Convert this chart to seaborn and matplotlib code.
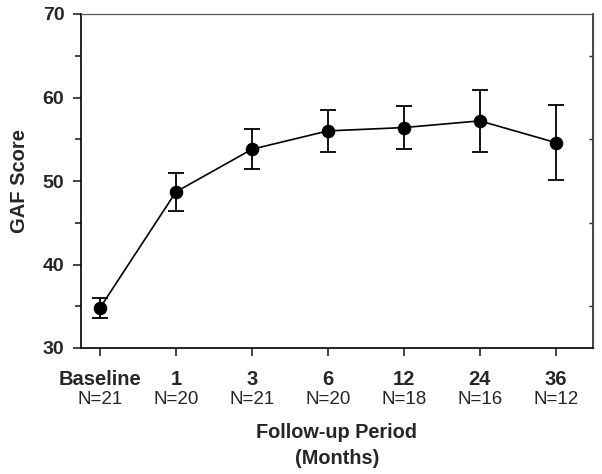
import matplotlib
matplotlib.use("Agg")
import matplotlib.pyplot as plt
import matplotlib.transforms as mtransforms
from matplotlib.ticker import MultipleLocator
import seaborn as sns
import pandas as pd
import numpy as np

periods = ["Baseline", "1", "3", "6", "12", "24", "36"]
n_labels = ["N=21", "N=20", "N=21", "N=20", "N=18", "N=16", "N=12"]
gaf_mean = [34.8, 48.7, 53.8, 56.0, 56.4, 57.2, 54.6]
gaf_err = [1.2, 2.25, 2.4, 2.5, 2.55, 3.75, 4.5]

sns.set_theme(style="ticks")
plt.rcParams['font.family'] = ['Liberation Sans', 'DejaVu Sans']

df = pd.DataFrame({"period": pd.Categorical(periods, categories=periods, ordered=True),
                   "gaf": gaf_mean, "err": gaf_err})

fig = plt.figure(figsize=(6.02, 4.74), dpi=100)
ax = fig.add_axes([81/602, 1-348/474, (593-81)/602, (348-14)/474])

sns.lineplot(data=df, x="period", y="gaf", ax=ax, color="black", linewidth=1.2,
             marker="o", markersize=9, markeredgecolor="black", sort=False)
ax.errorbar(np.arange(len(periods)), df["gaf"], yerr=df["err"], fmt="none",
            ecolor="black", elinewidth=1.3, capsize=6, capthick=1.3)

ax.set_ylim(30, 70)
ax.set_xlim(-0.25, 6.49)
ax.yaxis.set_major_locator(MultipleLocator(10))
ax.yaxis.set_minor_locator(MultipleLocator(5))
ax.tick_params(axis="y", which="major", direction="out", length=6, width=1.2,
               labelsize=14, pad=6)
ax.tick_params(axis="y", which="minor", direction="out", length=4, width=1.2)
ax.tick_params(axis="x", direction="out", length=6, width=1.2, labelsize=14.5, pad=10)
for lab in ax.get_yticklabels():
    lab.set_fontweight("bold")
ax.set_xticks(range(len(periods)))
ax.set_xticklabels(periods, fontweight="bold")

for s in ax.spines.values():
    s.set_linewidth(1.2)
    s.set_color("black")
ax.spines["top"].set_linewidth(0.9)
ax.spines["right"].set_linewidth(0.9)
ax.spines["top"].set_color("#555555")
ax.spines["right"].set_color("#555555")

# small inward ticks on right side
ax2 = ax.secondary_yaxis("right")
ax2.set_yticks([35, 45, 55, 65])
ax2.tick_params(direction="in", length=3, width=1.0, labelright=False)
ax2.set_yticklabels([])

trans = mtransforms.blended_transform_factory(ax.transData, fig.transFigure)
for i, t in enumerate(n_labels):
    ax.text(i, 1-400/474, t, transform=trans, ha="center", va="center", fontsize=13.5)

ax.set_xlabel("")
ax.set_ylabel("GAF Score", fontsize=14.5, fontweight="bold", labelpad=10)
fig.text((81+593)/2/602, 1-433/474, "Follow-up Period", ha="center", va="center",
         fontsize=14.3, fontweight="bold")
fig.text((81+593)/2/602, 1-459/474, "(Months)", ha="center", va="center",
         fontsize=14.3, fontweight="bold")

fig.savefig("out.png", dpi=100)
